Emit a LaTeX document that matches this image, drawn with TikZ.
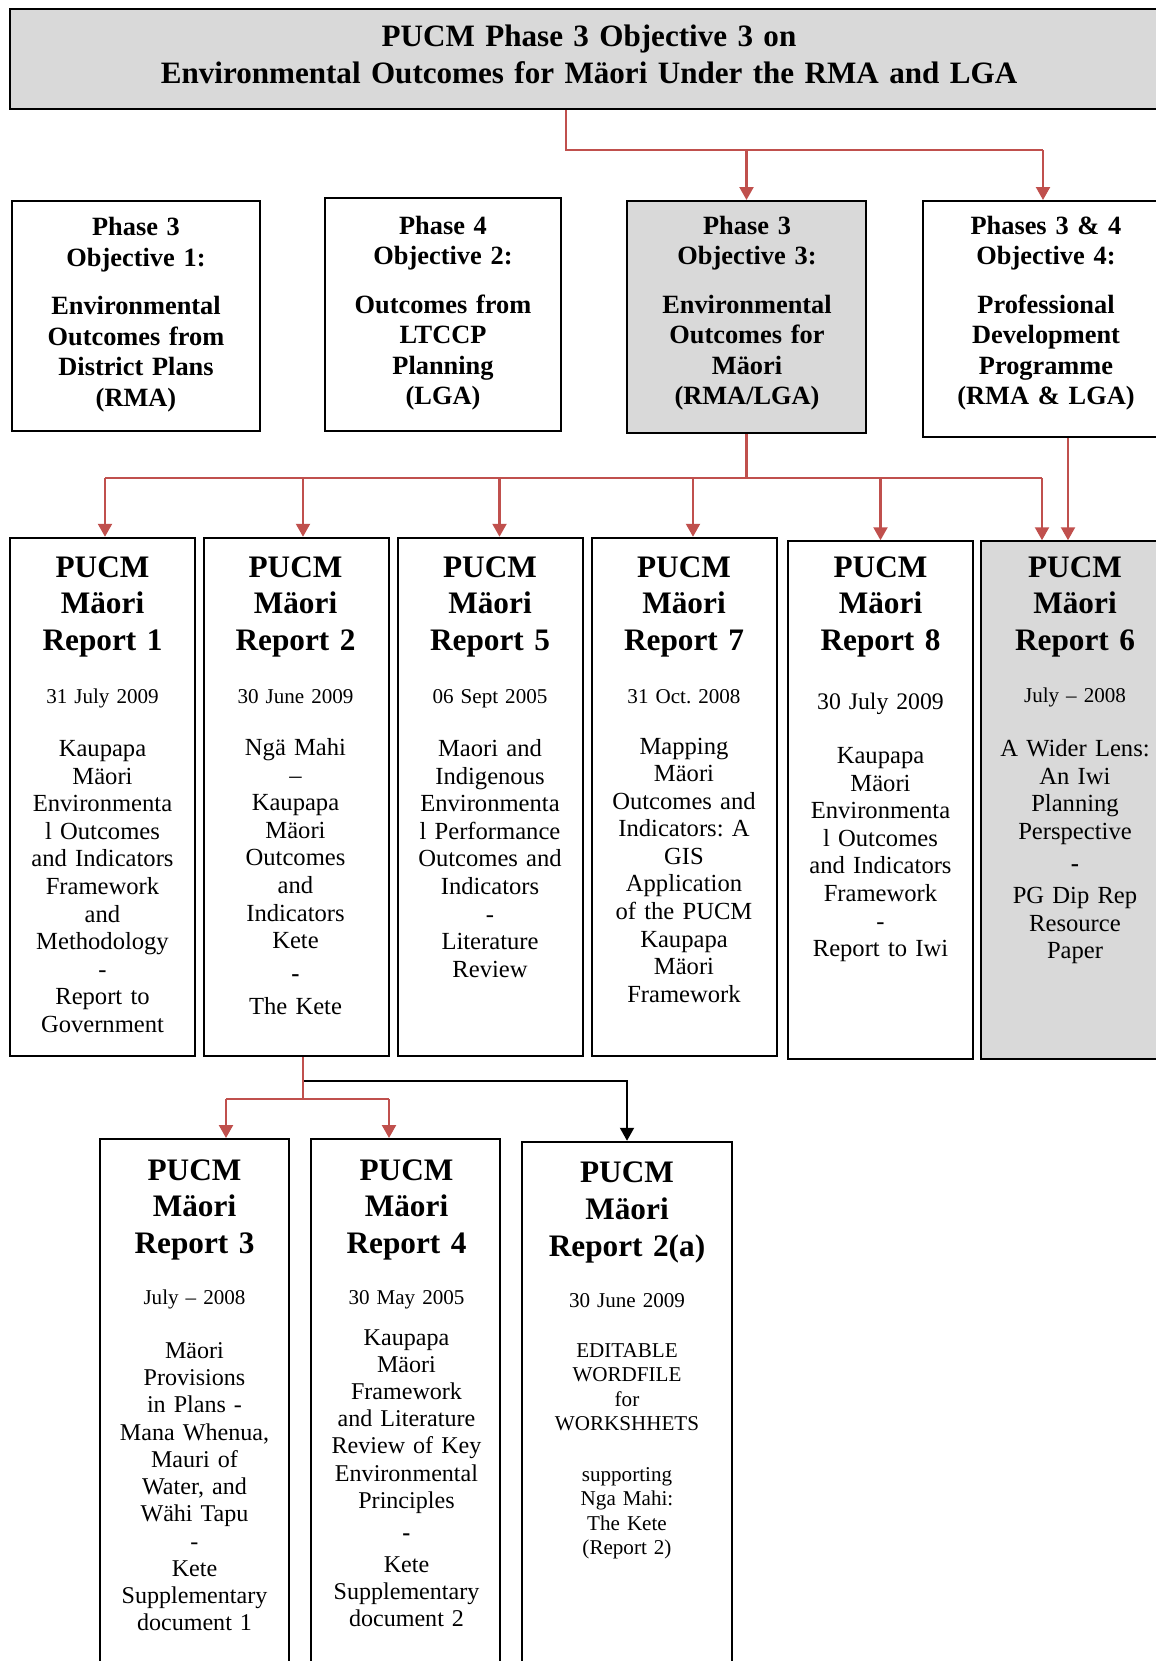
\documentclass[tikz,border=0pt]{standalone}
\usepackage{fontspec}
\setmainfont{Liberation Serif}
\usetikzlibrary{arrows.meta}
\frenchspacing

\definecolor{kastengrau}{RGB}{217,217,217}
\definecolor{pfeilrot}{RGB}{192,80,77}

\tikzset{
    kasten/.style={draw, line width=0.04cm, inner sep=0pt},
    linie/.style={draw=pfeilrot, line width=0.045cm},
    pfeil/.style={linie, -{Triangle[length=0.26cm,width=0.28cm]}},
    schwarzpfeil/.style={draw=black, line width=0.04cm, -{Triangle[length=0.26cm,width=0.28cm]}},
    titeltext/.style={anchor=base, inner sep=0pt, align=center, text width=22cm, font=\bfseries\fontsize{17.7}{20.8}\selectfont},
    zieltext/.style={anchor=base, inner sep=0pt, align=center, text width=4.6cm, font=\bfseries\fontsize{15}{17.4}\selectfont},
    kopftext/.style={anchor=base, inner sep=0pt, align=center, text width=3.6cm, font=\bfseries\fontsize{17.8}{21}\selectfont},
    datumtext/.style={anchor=base, inner sep=0pt, align=center, text width=3.6cm, font=\fontsize{12}{14}\selectfont},
    inhalttext/.style={anchor=base, inner sep=0pt, align=center, text width=3.6cm, font=\fontsize{14}{15.7}\selectfont},
    inhaltklein/.style={inhalttext, font=\fontsize{13.7}{15.5}\selectfont},
    inhaltmini/.style={inhalttext, font=\fontsize{12}{13.95}\selectfont}
}

\begin{document}
\begin{tikzpicture}[scale=1.0]

        \useasboundingbox (0,0) rectangle (23.12,-33.22);

        % Titel
        \node[kasten, fill=kastengrau, minimum width=23.16cm, minimum height=2.00cm] (titel) at (11.78,-1.18) {};
        \node[titeltext] (titeltext) at (11.78,-0.93) {PUCM Phase 3 Objective 3 on\\Environmental Outcomes for Mäori Under the RMA and LGA};

        % Ziele
        \node[kasten, minimum width=4.96cm, minimum height=4.60cm] (ziel1) at (2.72,-6.32) {};
        \node[zieltext] (ziel1text) at (2.72,-4.71) {Phase 3\\Objective 1:\\[0.36cm]Environmental\\Outcomes from\\District Plans\\(RMA)};

        \node[kasten, minimum width=4.72cm, minimum height=4.66cm] (ziel2) at (8.86,-6.29) {};
        \node[zieltext] (ziel2text) at (8.86,-4.68) {Phase 4\\Objective 2:\\[0.36cm]Outcomes from\\LTCCP\\Planning\\(LGA)};

        \node[kasten, fill=kastengrau, minimum width=4.78cm, minimum height=4.64cm] (ziel3) at (14.93,-6.34) {};
        \node[zieltext] (ziel3text) at (14.94,-4.68) {Phase 3\\Objective 3:\\[0.36cm]Environmental\\Outcomes for\\Mäori\\(RMA/LGA)};

        \node[kasten, minimum width=4.80cm, minimum height=4.72cm] (ziel4) at (20.86,-6.38) {};
        \node[zieltext] (ziel4text) at (20.92,-4.68) {Phases 3 \& 4\\Objective 4:\\[0.36cm]Professional\\Development\\Programme\\(RMA \& LGA)};

        % Berichte
        \node[kasten, minimum width=3.71cm, minimum height=10.37cm] (bericht1) at (2.05,-15.94) {};
        \node[kopftext] (bericht1kopf) at (2.05,-11.54) {PUCM\\Mäori\\Report 1};
        \node[datumtext] (bericht1datum) at (2.05,-14.06) {31 July 2009};
        \node[inhalttext] (bericht1inhalt) at (2.05,-15.13) {Kaupapa\\Mäori\\Environmenta\\l Outcomes\\and Indicators\\Framework\\and\\Methodology\\-\\Report to\\Government};

        \node[kasten, minimum width=3.70cm, minimum height=10.37cm] (bericht2) at (5.93,-15.94) {};
        \node[kopftext] (bericht2kopf) at (5.91,-11.54) {PUCM\\Mäori\\Report 2};
        \node[datumtext] (bericht2datum) at (5.91,-14.06) {30 June 2009};
        \node[inhalttext] (bericht2inhalt) at (5.91,-15.11) {Ngä Mahi\\–\\Kaupapa\\Mäori\\Outcomes\\and\\Indicators\\Kete\\[0.11cm]\textbf{-}\\[0.11cm]The Kete};

        \node[kasten, minimum width=3.70cm, minimum height=10.37cm] (bericht5) at (9.81,-15.94) {};
        \node[kopftext] (bericht5kopf) at (9.80,-11.54) {PUCM\\Mäori\\Report 5};
        \node[datumtext] (bericht5datum) at (9.80,-14.06) {06 Sept 2005};
        \node[inhalttext] (bericht5inhalt) at (9.80,-15.13) {Maori and\\Indigenous\\Environmenta\\l Performance\\Outcomes and\\Indicators\\-\\Literature\\Review};

        \node[kasten, minimum width=3.70cm, minimum height=10.37cm] (bericht7) at (13.69,-15.94) {};
        \node[kopftext] (bericht7kopf) at (13.68,-11.54) {PUCM\\Mäori\\Report 7};
        \node[datumtext] (bericht7datum) at (13.68,-14.06) {31 Oct. 2008};
        \node[inhalttext] (bericht7inhalt) at (13.68,-15.08) {Mapping\\Mäori\\Outcomes and\\Indicators: A\\GIS\\Application\\of the PUCM\\Kaupapa\\Mäori\\Framework};

        \node[kasten, minimum width=3.70cm, minimum height=10.35cm] (bericht8) at (17.61,-16.00) {};
        \node[kopftext] (bericht8kopf) at (17.61,-11.54) {PUCM\\Mäori\\Report 8};
        \node[datumtext, font=\fontsize{13.5}{15}\selectfont] (bericht8datum) at (17.61,-14.18) {30 July 2009};
        \node[inhalttext] (bericht8inhalt) at (17.61,-15.27) {Kaupapa\\Mäori\\Environmenta\\l Outcomes\\and Indicators\\Framework\\-\\Report to Iwi};

        \node[kasten, fill=kastengrau, minimum width=3.76cm, minimum height=10.35cm] (bericht6) at (21.50,-16.00) {};
        \node[kopftext] (bericht6kopf) at (21.50,-11.54) {PUCM\\Mäori\\Report 6};
        \node[datumtext] (bericht6datum) at (21.50,-14.04) {July – 2008};
        \node[inhalttext] (bericht6inhalt) at (21.50,-15.13) {A Wider Lens:\\An Iwi\\Planning\\Perspective\\[0.09cm]\textbf{-}\\[0.09cm]PG Dip Rep\\Resource\\Paper};

        % Kete-Dokumente
        \node[kasten, minimum width=3.78cm, minimum height=11.22cm] (bericht3) at (3.89,-28.39) {};
        \node[kopftext] (bericht3kopf) at (3.89,-23.60) {PUCM\\Mäori\\Report 3};
        \node[datumtext] (bericht3datum) at (3.89,-26.08) {July – 2008};
        \node[inhaltklein] (bericht3inhalt) at (3.89,-27.17) {Mäori\\Provisions\\in Plans -\\Mana Whenua,\\Mauri of\\Water, and\\Wähi Tapu\\-\\Kete\\Supplementary\\document 1};

        \node[kasten, minimum width=3.78cm, minimum height=11.22cm] (bericht4) at (8.11,-28.39) {};
        \node[kopftext] (bericht4kopf) at (8.13,-23.60) {PUCM\\Mäori\\Report 4};
        \node[datumtext] (bericht4datum) at (8.13,-26.08) {30 May 2005};
        \node[inhaltklein] (bericht4inhalt) at (8.13,-26.90) {Kaupapa\\Mäori\\Framework\\and Literature\\Review of Key\\Environmental\\Principles\\[0.09cm]\textbf{-}\\[0.10cm]Kete\\Supplementary\\document 2};

        \node[kasten, minimum width=4.20cm, minimum height=11.17cm] (bericht2a) at (12.54,-28.42) {};
        \node[kopftext] (bericht2akopf) at (12.54,-23.65) {PUCM\\Mäori\\Report 2(a)};
        \node[datumtext] (bericht2adatum) at (12.54,-26.14) {30 June 2009};
        \node[inhaltmini] (bericht2ainhalt) at (12.54,-27.14) {EDITABLE\\WORDFILE\\for\\WORKSHHETS\\[0.52cm]supporting\\Nga Mahi:\\The Kete\\(Report 2)};

        % Pfeile Titel
        \coordinate (knick) at (11.32,-3.00);
        \draw[linie] (titel.south -| knick) -- (knick) -- (knick -| ziel4.north);
        \draw[pfeil] (knick -| ziel3.north) -- (ziel3.north);
        \draw[pfeil] (knick -| ziel4.north) -- (ziel4.north);

        % Pfeile Ziel 3
        \coordinate (verteiler) at (14.98,-9.56);
        \draw[linie] (ziel3.south) -- (ziel3.south |- verteiler);
        \draw[linie] ([xshift=0.05cm]bericht1.north |- verteiler) -- ([xshift=-0.66cm]bericht6.north |- verteiler);
        \draw[pfeil] ([xshift=0.05cm]bericht1.north |- verteiler) -- ([xshift=0.05cm]bericht1.north);
        \draw[pfeil] ([xshift=0.13cm]bericht2.north |- verteiler) -- ([xshift=0.13cm]bericht2.north);
        \draw[pfeil] ([xshift=0.18cm]bericht5.north |- verteiler) -- ([xshift=0.18cm]bericht5.north);
        \draw[pfeil] ([xshift=0.17cm]bericht7.north |- verteiler) -- ([xshift=0.17cm]bericht7.north);
        \draw[pfeil] (bericht8.north |- verteiler) -- (bericht8.north);
        \draw[pfeil] ([xshift=-0.66cm]bericht6.north |- verteiler) -- ([xshift=-0.66cm]bericht6.north);

        % Pfeil Ziel 4
        \draw[pfeil] ([xshift=-0.14cm]bericht6.north |- ziel4.south) -- ([xshift=-0.14cm]bericht6.north);

        % Pfeile Bericht 2
        \coordinate (abzweig) at (6.06,-21.61);
        \coordinate (gabel) at (6.06,-21.98);
        \draw[schwarzpfeil] (abzweig) -| (bericht2a.north);
        \draw[linie] (bericht2.south -| gabel) -- (gabel);
        \draw[linie] ([xshift=0.63cm]bericht3.north |- gabel) -- ([xshift=-0.33cm]bericht4.north |- gabel);
        \draw[pfeil] ([xshift=0.63cm]bericht3.north |- gabel) -- ([xshift=0.63cm]bericht3.north);
        \draw[pfeil] ([xshift=-0.33cm]bericht4.north |- gabel) -- ([xshift=-0.33cm]bericht4.north);

    \end{tikzpicture}
\end{document}
